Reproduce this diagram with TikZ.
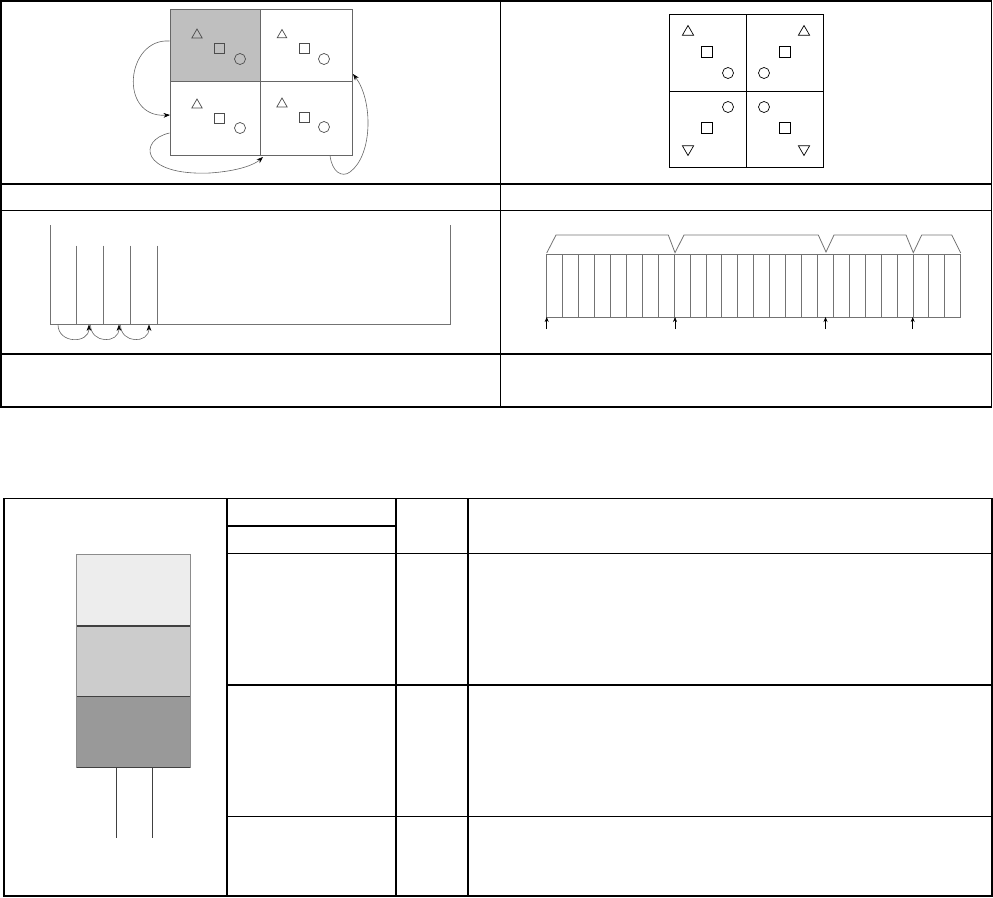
\documentclass[tikz,border=0pt]{standalone}
\usetikzlibrary{arrows.meta,shapes.geometric}
\begin{document}
\begin{tikzpicture}[x=1pt,y=-1pt,
  tline/.style={line width=1.4pt,black},
  tthin/.style={line width=0.9pt,black},
  bthick/.style={line width=2pt,black},
  bthin/.style={line width=1pt,black},
  gridA/.style={draw=black!60,line width=0.8pt},
  shp/.style={draw=black!70,line width=0.7pt,inner sep=0pt},
  triup/.style={shp,regular polygon,regular polygon sides=3,minimum size=12pt},
  tridn/.style={triup,shape border rotate=180},
  sqr/.style={shp,rectangle,minimum size=10pt},
  circ/.style={shp,circle,minimum size=11pt},
  shpB/.style={draw=black,line width=0.7pt,inner sep=0pt},
  triupB/.style={shpB,regular polygon,regular polygon sides=3,minimum size=13pt},
  tridnB/.style={triupB,shape border rotate=180},
  sqrB/.style={shpB,rectangle,minimum size=11pt},
  circB/.style={shpB,circle,minimum size=11pt},
  flow/.style={draw=black!60,line width=0.6pt,-{Stealth[length=6.5pt,width=4.8pt,black]}},
  glines/.style={draw=black!55,line width=0.8pt},
  lead/.style={draw=black!75,line width=1pt}]
\useasboundingbox (0,0) rectangle (993,897);

% ---------------- top table ----------------
\draw[tline] (0.8,0.8) rectangle (991.5,407);
\draw[tline] (0.8,184) -- (991.5,184);
\draw[tline] (0.8,210.5) -- (991.5,210.5);
\draw[tline] (0.8,354) -- (991.5,354);
\draw[tthin] (500,0.8) -- (500,407);

% ---- top-left diagram ----
\fill[black!25] (170,9) rectangle (260.7,81.7);
\draw[gridA] (170,9) rectangle (352,155);
\draw[gridA] (260.7,9) -- (260.7,155);
\draw[gridA] (170,81.7) -- (352,81.7);
\node[triup] (t1) at (197,35) {};
\node[sqr]   (s1) at (219,48) {};
\node[circ]  (c1) at (240,59) {};
\node[triup,minimum size=11pt] (t2) at (282,35) {};
\node[sqr]   (s2) at (304,48) {};
\node[circ]  (c2) at (324,59) {};
\node[triup] (t3) at (197,105) {};
\node[sqr]   (s3) at (219,118) {};
\node[circ]  (c3) at (240,128) {};
\node[triup] (t4) at (282,104) {};
\node[sqr]   (s4) at (304,117) {};
\node[circ]  (c4) at (324,127) {};
\coordinate (a1s) at (169.5,41);
\coordinate (a1e) at (170,115);
\coordinate (a2s) at (169.5,133);
\coordinate (a2e) at (263,157);
\coordinate (a3s) at (330,155.5);
\coordinate (a3e) at (353,74);
\draw[flow] (a1s) .. controls (126,38) and (118,118) .. (a1e);
\draw[flow] (a2s) .. controls (138,140) and (140,176) .. (210,173)
                  .. controls (238,171) and (254,165) .. (a2e);
\draw[flow] (a3s) .. controls (332,172) and (342,178) .. (350,172)
                  .. controls (373,155) and (373,100) .. (a3e);

% ---- top-right diagram ----
\draw[black,line width=0.9pt] (669,14) rectangle (823,167);
\draw[black,line width=0.9pt] (746,14) -- (746,167);
\draw[black,line width=0.9pt] (669,91) -- (823,91);
\node[triupB] (u1) at (688,32) {};
\node[sqrB]   (q1) at (707,52) {};
\node[circB]  (o1) at (728,73) {};
\node[triupB] (u2) at (804,32) {};
\node[sqrB]   (q2) at (785,52) {};
\node[circB]  (o2) at (764,73) {};
\node[circB]  (o3) at (728,107) {};
\node[sqrB]   (q3) at (707,128) {};
\node[tridnB] (u3) at (688,149) {};
\node[circB]  (o4) at (764,107) {};
\node[sqrB]   (q4) at (785,128) {};
\node[tridnB] (u4) at (804,149) {};

% ---- third row left diagram ----
\draw[glines] (50.7,225) -- (50.7,324) -- (450,324) -- (450,225);
\foreach \x in {76.7,103.7,130.7,157.7} \draw[glines] (\x,245.7) -- (\x,324);
\coordinate (b1s) at (58,324.5);  \coordinate (b1e) at (89,324.5);
\coordinate (b2s) at (90.5,324.5);\coordinate (b2e) at (119,324.5);
\coordinate (b3s) at (120.5,324.5);\coordinate (b3e) at (149,324.5);
\draw[flow] (b1s) .. controls (58,344) and (89,344) .. (b1e);
\draw[flow] (b2s) .. controls (90.5,344) and (119,344) .. (b2e);
\draw[flow] (b3s) .. controls (120.5,344) and (149,344) .. (b3e);

% ---- third row right diagram ----
\draw[glines] (546.7,254) rectangle (960.7,317);
\foreach \i in {1,...,25} \draw[glines] ({546.7+\i*15.923},254) -- ({546.7+\i*15.923},317);
\draw[glines] (546.7,253) -- (556,235) -- (668.3,235) -- (675,252.7) -- (684,235)
  -- (818.3,235) -- (826,252) -- (834,235) -- (906,235) -- (913.3,252.7)
  -- (921.7,235) -- (951.7,235) -- (960.7,253);
\foreach \x/\n in {546.7/p1,675/p2,825.5/p3,912.7/p4}{
  \coordinate (\n s) at (\x,329);
  \coordinate (\n e) at (\x,317);
  \draw[draw=black,line width=0.6pt,-{Stealth[length=5pt,width=4pt]}] (\n s) -- (\n e);
}

% ---------------- bottom table ----------------
\draw[line width=1.2pt] (4,498.3) -- (992,498.3);
\draw[line width=1.3pt] (4,498.3) -- (4,896);
\draw[line width=1.6pt] (992,498.3) -- (992,896);
\draw[bthick] (3,895.8) -- (993,895.8);
\draw[bthick] (227,498.3) -- (227,896);
\draw[bthick] (396,498.3) -- (396,896);
\draw[bthick] (468.3,498.3) -- (468.3,896);
\draw[bthick] (227,525.7) -- (396,525.7);
\draw[bthin] (227,553.3) -- (992,553.3);
\draw[bthick] (227,684.7) -- (992,684.7);
\draw[bthin] (227,816.3) -- (992,816.3);

% component
\fill[black!7]  (76.7,554.3) rectangle (190,626);
\fill[black!20] (76.7,626) rectangle (190,696.7);
\fill[black!40] (76.7,696.7) rectangle (190,767.7);
\draw[black!45,line width=0.7pt] (76.7,767.7) -- (76.7,554.3) -- (190,554.3) -- (190,767.7);
\draw[black!75,line width=1.2pt] (76.7,626) -- (190,626);
\draw[black!75,line width=1.2pt] (76.7,696.7) -- (190,696.7);
\draw[black!75,line width=1.2pt] (76.7,767.7) -- (190,767.7);
\draw[lead] (116,767.7) -- (116,838.3);
\draw[lead] (152,767.7) -- (152,838.3);
\end{tikzpicture}
\end{document}
